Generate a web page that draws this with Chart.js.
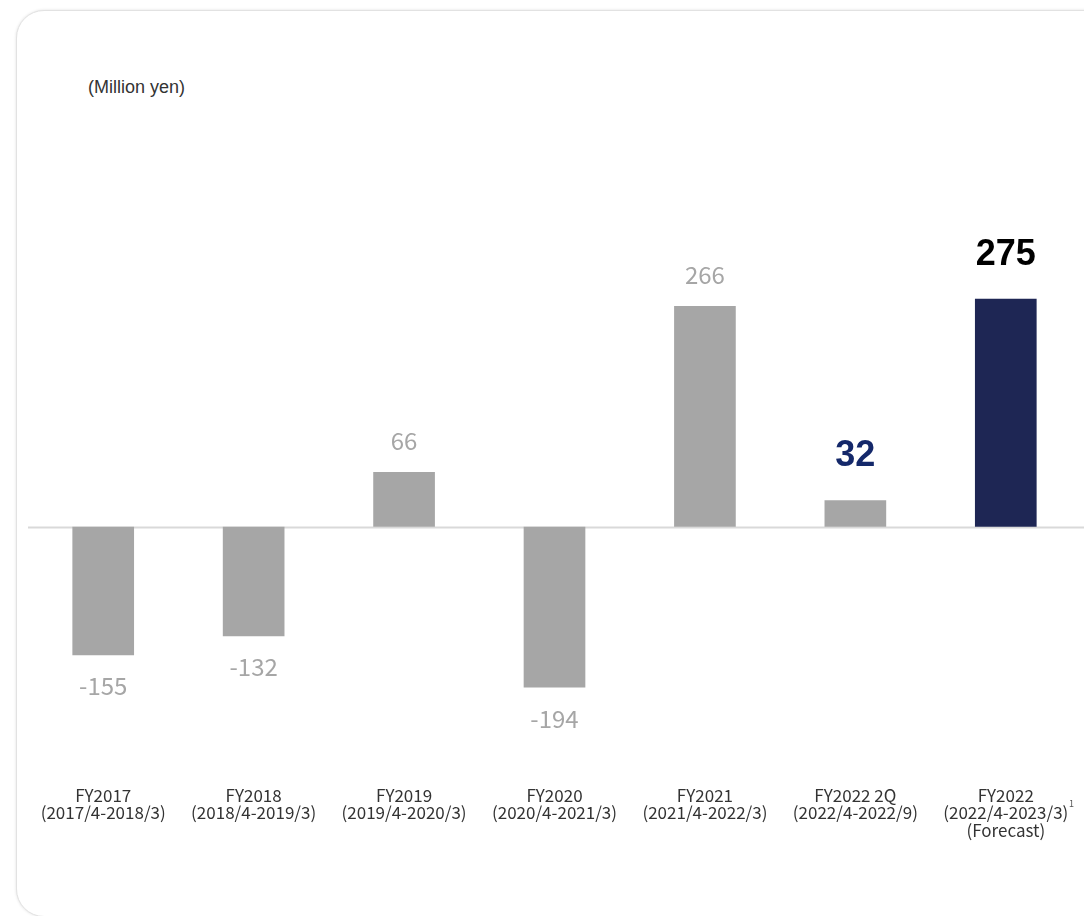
<!DOCTYPE html>
<html>
<head>
<meta charset="utf-8">
<script src="https://cdn.jsdelivr.net/npm/chart.js@4.4.0/dist/chart.umd.min.js"></script>
<style>
  html, body { margin: 0; padding: 0; background: #ffffff; width: 1084px; height: 916px; overflow: hidden; }
  #card { position: absolute; left: 16px; top: 10px; width: 1110px; height: 905px; border-radius: 28px;
          border: 1px solid #e2e2e2; box-shadow: 0 0 3px rgba(0,0,0,0.12); background: #fff; }
  #unit { position: absolute; left: 88px; top: 77px; font-family: "Liberation Sans", Arial, sans-serif; font-size: 18px; color: #333; }
  #pg { position: absolute; left: 1069px; top: 797px; font-family: "Noto Sans CJK JP", sans-serif; font-size: 9px; color: #555; }
  #c { position: absolute; left: 0; top: 0; }
</style>
</head>
<body>
<div id="card"></div>
<div id="unit">(Million yen)</div>
<canvas id="c" width="1084" height="916"></canvas>
<div id="pg">1</div>
<script>
const categories = [
  ["FY2017", "(2017/4-2018/3)"],
  ["FY2018", "(2018/4-2019/3)"],
  ["FY2019", "(2019/4-2020/3)"],
  ["FY2020", "(2020/4-2021/3)"],
  ["FY2021", "(2021/4-2022/3)"],
  ["FY2022 2Q", "(2022/4-2022/9)"],
  ["FY2022", "(2022/4-2023/3)", "(Forecast)"]
];
const operatingProfit = [-155, -132, 66, -194, 266, 32, 275];
const barColors = ["#a6a6a6", "#a6a6a6", "#a6a6a6", "#a6a6a6", "#a6a6a6", "#a6a6a6", "#1e2654"];
const labelColors = ["#a6a6a6", "#a6a6a6", "#a6a6a6", "#a6a6a6", "#a6a6a6", "#14286a", "#000000"];
const labelBold = [false, false, false, false, false, true, true];

const zeroLine = {
  id: "zeroLine",
  beforeDatasetsDraw(chart) {
    const y = Math.round(chart.scales.y.getPixelForValue(0)) + 0.5;
    const ctx = chart.ctx;
    ctx.save();
    ctx.strokeStyle = "#d9d9d9";
    ctx.lineWidth = 2;
    ctx.beginPath();
    ctx.moveTo(28, y);
    ctx.lineTo(1084, y);
    ctx.stroke();
    ctx.restore();
  }
};

const valueLabels = {
  id: "valueLabels",
  afterDatasetsDraw(chart) {
    const ctx = chart.ctx;
    const meta = chart.getDatasetMeta(0);
    ctx.save();
    ctx.textAlign = "center";
    ctx.textBaseline = "middle";
    meta.data.forEach((bar, i) => {
      const v = operatingProfit[i];
      const bold = labelBold[i];
      ctx.font = bold ? "bold 36px 'Liberation Sans', Arial, sans-serif" : "24px 'Noto Sans CJK JP', sans-serif";
      ctx.fillStyle = labelColors[i];
      const off = bold ? 44 : 31;
      const y = v >= 0 ? bar.y - off : bar.y + off;
      ctx.fillText(String(v), bar.x, y);
    });
    ctx.restore();
  }
};

new Chart(document.getElementById("c"), {
  type: "bar",
  data: {
    labels: categories,
    datasets: [{
      data: operatingProfit,
      backgroundColor: barColors,
      borderWidth: 0,
      barPercentage: 0.41,
      categoryPercentage: 1.0
    }]
  },
  options: {
    responsive: false,
    animation: false,
    devicePixelRatio: 1,
    layout: { padding: { left: 28, right: 3, top: 195, bottom: 66 } },
    plugins: { legend: { display: false }, tooltip: { enabled: false } },
    scales: {
      x: {
        grid: { display: false, drawTicks: false },
        border: { display: false },
        ticks: {
          color: "#333",
          font: { family: "'Noto Sans CJK JP', sans-serif", size: 17, lineHeight: 1.03 },
          padding: 11,
          maxRotation: 0,
          autoSkip: false
        }
      },
      y: {
        display: false,
        min: -300,
        max: 400
      }
    }
  },
  plugins: [zeroLine, valueLabels]
});
</script>
</body>
</html>
